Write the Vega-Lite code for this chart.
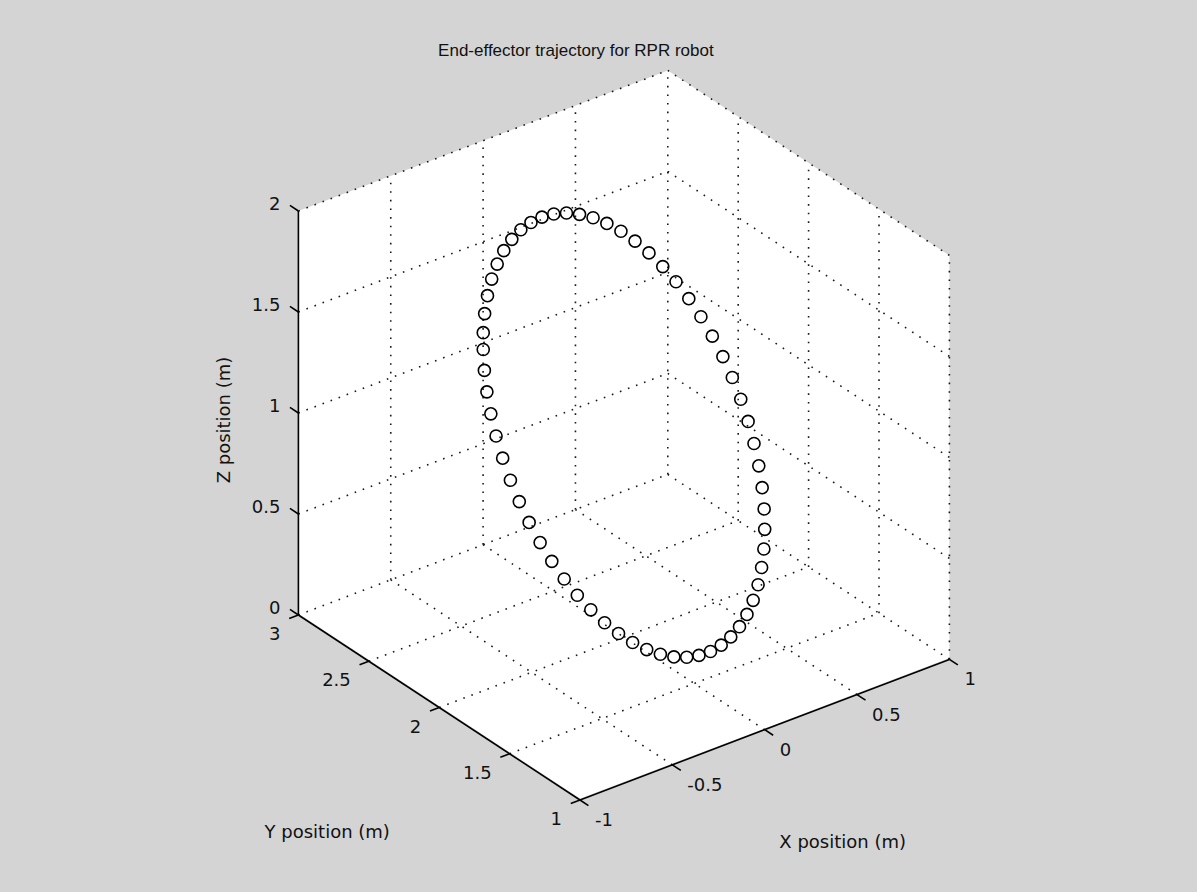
{
  "$schema": "https://vega.github.io/schema/vega-lite/v6.json",
  "width": 1197,
  "height": 892,
  "autosize": {"type": "none"},
  "padding": 0,
  "background": "#d4d4d4",
  "config": {"view": {"stroke": null}},
  "datasets": {
    "faceTop": [
      {"x": -1, "y": 3, "z": 2},
      {"x": 1, "y": 3, "z": 2},
      {"x": 1, "y": 1, "z": 2}
    ],
    "faceBottom": [
      {"x": -1, "y": 3, "z": 0},
      {"x": -1, "y": 1, "z": 0},
      {"x": 1, "y": 1, "z": 0}
    ],
    "grid": [
      {"x1": -0.5, "y1": 3, "z1": 0, "x2": -0.5, "y2": 3, "z2": 2},
      {"x1": 0, "y1": 3, "z1": 0, "x2": 0, "y2": 3, "z2": 2},
      {"x1": 0.5, "y1": 3, "z1": 0, "x2": 0.5, "y2": 3, "z2": 2},
      {"x1": 1, "y1": 3, "z1": 0, "x2": 1, "y2": 3, "z2": 2},
      {"x1": -1, "y1": 3, "z1": 0, "x2": 1, "y2": 3, "z2": 0},
      {"x1": -1, "y1": 3, "z1": 0.5, "x2": 1, "y2": 3, "z2": 0.5},
      {"x1": -1, "y1": 3, "z1": 1, "x2": 1, "y2": 3, "z2": 1},
      {"x1": -1, "y1": 3, "z1": 1.5, "x2": 1, "y2": 3, "z2": 1.5},
      {"x1": -1, "y1": 3, "z1": 2, "x2": 1, "y2": 3, "z2": 2},
      {"x1": 1, "y1": 1, "z1": 0, "x2": 1, "y2": 1, "z2": 2},
      {"x1": 1, "y1": 1.5, "z1": 0, "x2": 1, "y2": 1.5, "z2": 2},
      {"x1": 1, "y1": 2, "z1": 0, "x2": 1, "y2": 2, "z2": 2},
      {"x1": 1, "y1": 2.5, "z1": 0, "x2": 1, "y2": 2.5, "z2": 2},
      {"x1": 1, "y1": 1, "z1": 0, "x2": 1, "y2": 3, "z2": 0},
      {"x1": 1, "y1": 1, "z1": 0.5, "x2": 1, "y2": 3, "z2": 0.5},
      {"x1": 1, "y1": 1, "z1": 1, "x2": 1, "y2": 3, "z2": 1},
      {"x1": 1, "y1": 1, "z1": 1.5, "x2": 1, "y2": 3, "z2": 1.5},
      {"x1": 1, "y1": 1, "z1": 2, "x2": 1, "y2": 3, "z2": 2},
      {"x1": -0.5, "y1": 1, "z1": 0, "x2": -0.5, "y2": 3, "z2": 0},
      {"x1": 0, "y1": 1, "z1": 0, "x2": 0, "y2": 3, "z2": 0},
      {"x1": 0.5, "y1": 1, "z1": 0, "x2": 0.5, "y2": 3, "z2": 0},
      {"x1": -1, "y1": 1.5, "z1": 0, "x2": 1, "y2": 1.5, "z2": 0},
      {"x1": -1, "y1": 2, "z1": 0, "x2": 1, "y2": 2, "z2": 0},
      {"x1": -1, "y1": 2.5, "z1": 0, "x2": 1, "y2": 2.5, "z2": 0}
    ],
    "axes": [
      {"x1": -1, "y1": 3, "z1": 0, "x2": -1, "y2": 3, "z2": 2},
      {"x1": -1, "y1": 1, "z1": 0, "x2": -1, "y2": 3, "z2": 0},
      {"x1": -1, "y1": 1, "z1": 0, "x2": 1, "y2": 1, "z2": 0},
      {"x1": -1, "y1": 3, "z1": 0, "x2": -1, "y2": 3.06, "z2": 0},
      {"x1": -1, "y1": 3, "z1": 0.5, "x2": -1, "y2": 3.06, "z2": 0.5},
      {"x1": -1, "y1": 3, "z1": 1, "x2": -1, "y2": 3.06, "z2": 1},
      {"x1": -1, "y1": 3, "z1": 1.5, "x2": -1, "y2": 3.06, "z2": 1.5},
      {"x1": -1, "y1": 3, "z1": 2, "x2": -1, "y2": 3.06, "z2": 2},
      {"x1": -1, "y1": 1, "z1": 0, "x2": -1.05, "y2": 1, "z2": 0},
      {"x1": -1, "y1": 1.5, "z1": 0, "x2": -1.05, "y2": 1.5, "z2": 0},
      {"x1": -1, "y1": 2, "z1": 0, "x2": -1.05, "y2": 2, "z2": 0},
      {"x1": -1, "y1": 2.5, "z1": 0, "x2": -1.05, "y2": 2.5, "z2": 0},
      {"x1": -1, "y1": 3, "z1": 0, "x2": -1.05, "y2": 3, "z2": 0},
      {"x1": -1, "y1": 1, "z1": 0, "x2": -1, "y2": 0.94, "z2": 0},
      {"x1": -0.5, "y1": 1, "z1": 0, "x2": -0.5, "y2": 0.94, "z2": 0},
      {"x1": 0, "y1": 1, "z1": 0, "x2": 0, "y2": 0.94, "z2": 0},
      {"x1": 0.5, "y1": 1, "z1": 0, "x2": 0.5, "y2": 0.94, "z2": 0},
      {"x1": 1, "y1": 1, "z1": 0, "x2": 1, "y2": 0.94, "z2": 0}
    ],
    "ticklabels": [
      {"axis": "z", "x": -1, "y": 3, "z": 0, "label": "0"},
      {"axis": "z", "x": -1, "y": 3, "z": 0.5, "label": "0.5"},
      {"axis": "z", "x": -1, "y": 3, "z": 1, "label": "1"},
      {"axis": "z", "x": -1, "y": 3, "z": 1.5, "label": "1.5"},
      {"axis": "z", "x": -1, "y": 3, "z": 2, "label": "2"},
      {"axis": "y", "x": -1, "y": 1, "z": 0, "label": "1"},
      {"axis": "y", "x": -1, "y": 1.5, "z": 0, "label": "1.5"},
      {"axis": "y", "x": -1, "y": 2, "z": 0, "label": "2"},
      {"axis": "y", "x": -1, "y": 2.5, "z": 0, "label": "2.5"},
      {"axis": "y", "x": -1, "y": 3, "z": 0, "label": "3"},
      {"axis": "x", "x": -1, "y": 1, "z": 0, "label": "-1"},
      {"axis": "x", "x": -0.5, "y": 1, "z": 0, "label": "-0.5"},
      {"axis": "x", "x": 0, "y": 1, "z": 0, "label": "0"},
      {"axis": "x", "x": 0.5, "y": 1, "z": 0, "label": "0.5"},
      {"axis": "x", "x": 1, "y": 1, "z": 0, "label": "1"}
    ],
    "titles": [
      {"role": "title", "x": 0, "y": 2, "z": 2, "label": "End-effector trajectory for RPR robot"},
      {"role": "z", "x": -1, "y": 3, "z": 1, "label": "Z position (m)"},
      {"role": "y", "x": -1, "y": 2, "z": 0, "label": "Y position (m)"},
      {"role": "x", "x": 0, "y": 1, "z": 0, "label": "X position (m)"}
    ],
    "traj": [
      {"x": 0, "y": 2.999, "z": 1.050}, {"x": 0, "y": 2.989, "z": 1.149},
      {"x": 0, "y": 2.969, "z": 1.247}, {"x": 0, "y": 2.939, "z": 1.343},
      {"x": 0, "y": 2.900, "z": 1.435}, {"x": 0, "y": 2.853, "z": 1.523},
      {"x": 0, "y": 2.796, "z": 1.605}, {"x": 0, "y": 2.732, "z": 1.682},
      {"x": 0, "y": 2.660, "z": 1.751}, {"x": 0, "y": 2.582, "z": 1.813},
      {"x": 0, "y": 2.498, "z": 1.867}, {"x": 0, "y": 2.408, "z": 1.913},
      {"x": 0, "y": 2.315, "z": 1.949}, {"x": 0, "y": 2.219, "z": 1.976},
      {"x": 0, "y": 2.121, "z": 1.993}, {"x": 0, "y": 2.021, "z": 2.000},
      {"x": 0, "y": 1.921, "z": 1.997}, {"x": 0, "y": 1.822, "z": 1.984},
      {"x": 0, "y": 1.724, "z": 1.961}, {"x": 0, "y": 1.630, "z": 1.929},
      {"x": 0, "y": 1.539, "z": 1.887}, {"x": 0, "y": 1.453, "z": 1.837},
      {"x": 0, "y": 1.372, "z": 1.778}, {"x": 0, "y": 1.297, "z": 1.711},
      {"x": 0, "y": 1.230, "z": 1.638}, {"x": 0, "y": 1.170, "z": 1.558},
      {"x": 0, "y": 1.118, "z": 1.472}, {"x": 0, "y": 1.076, "z": 1.382},
      {"x": 0, "y": 1.042, "z": 1.287}, {"x": 0, "y": 1.018, "z": 1.190},
      {"x": 0, "y": 1.004, "z": 1.091}, {"x": 0, "y": 1.000, "z": 0.992},
      {"x": 0, "y": 1.006, "z": 0.892}, {"x": 0, "y": 1.022, "z": 0.793},
      {"x": 0, "y": 1.047, "z": 0.696}, {"x": 0, "y": 1.082, "z": 0.603},
      {"x": 0, "y": 1.126, "z": 0.513}, {"x": 0, "y": 1.179, "z": 0.428},
      {"x": 0, "y": 1.241, "z": 0.349}, {"x": 0, "y": 1.309, "z": 0.277},
      {"x": 0, "y": 1.385, "z": 0.211}, {"x": 0, "y": 1.467, "z": 0.154},
      {"x": 0, "y": 1.554, "z": 0.105}, {"x": 0, "y": 1.645, "z": 0.065},
      {"x": 0, "y": 1.741, "z": 0.034}, {"x": 0, "y": 1.838, "z": 0.013},
      {"x": 0, "y": 1.938, "z": 0.002}, {"x": 0, "y": 2.038, "z": 0.001},
      {"x": 0, "y": 2.137, "z": 0.009}, {"x": 0, "y": 2.235, "z": 0.028},
      {"x": 0, "y": 2.331, "z": 0.056}, {"x": 0, "y": 2.424, "z": 0.094},
      {"x": 0, "y": 2.512, "z": 0.141}, {"x": 0, "y": 2.595, "z": 0.196},
      {"x": 0, "y": 2.673, "z": 0.260}, {"x": 0, "y": 2.743, "z": 0.331},
      {"x": 0, "y": 2.806, "z": 0.408}, {"x": 0, "y": 2.861, "z": 0.492},
      {"x": 0, "y": 2.908, "z": 0.580}, {"x": 0, "y": 2.945, "z": 0.673},
      {"x": 0, "y": 2.973, "z": 0.769}, {"x": 0, "y": 2.991, "z": 0.867},
      {"x": 0, "y": 2.999, "z": 0.967}
    ]
  },
  "layer": [
    {
      "data": {"name": "faceTop"},
      "transform": [
        {"calculate": "580 + 184.7*(datum.x+1) - 140.8*(datum.y-1)", "as": "u"},
        {"calculate": "92 + 70.3*(datum.x+1) + 92.5*(datum.y-1) + 202*datum.z", "as": "v"}
      ],
      "mark": {"type": "area", "color": "#ffffff", "opacity": 1, "interpolate": "linear"},
      "encoding": {
        "x": {"field": "u", "type": "quantitative", "scale": {"domain": [0, 1197], "nice": false, "zero": false}, "axis": null},
        "y": {"field": "v", "type": "quantitative", "scale": {"domain": [0, 892], "nice": false, "zero": true}, "axis": null}
      }
    },
    {
      "data": {"name": "faceBottom"},
      "transform": [
        {"calculate": "580 + 184.7*(datum.x+1) - 140.8*(datum.y-1)", "as": "u"},
        {"calculate": "92 + 70.3*(datum.x+1) + 92.5*(datum.y-1) + 202*datum.z", "as": "v"}
      ],
      "mark": {"type": "area", "color": "#d4d4d4", "stroke": "#d4d4d4", "strokeWidth": 2.5, "opacity": 1, "interpolate": "linear"},
      "encoding": {
        "x": {"field": "u", "type": "quantitative", "scale": {"domain": [0, 1197], "nice": false, "zero": false}, "axis": null},
        "y": {"field": "v", "type": "quantitative", "scale": {"domain": [0, 892], "nice": false, "zero": true}, "axis": null}
      }
    },
    {
      "data": {"name": "grid"},
      "transform": [
        {"calculate": "580 + 184.7*(datum.x1+1) - 140.8*(datum.y1-1)", "as": "u1"},
        {"calculate": "92 + 70.3*(datum.x1+1) + 92.5*(datum.y1-1) + 202*datum.z1", "as": "v1"},
        {"calculate": "580 + 184.7*(datum.x2+1) - 140.8*(datum.y2-1)", "as": "u2"},
        {"calculate": "92 + 70.3*(datum.x2+1) + 92.5*(datum.y2-1) + 202*datum.z2", "as": "v2"}
      ],
      "mark": {"type": "rule", "stroke": "#1a1a1a", "strokeWidth": 1.6, "strokeDash": [1.6, 7]},
      "encoding": {
        "x": {"field": "u1", "type": "quantitative", "scale": {"domain": [0, 1197], "nice": false, "zero": false}, "axis": null},
        "y": {"field": "v1", "type": "quantitative", "scale": {"domain": [0, 892], "nice": false, "zero": true}, "axis": null},
        "x2": {"field": "u2"},
        "y2": {"field": "v2"}
      }
    },
    {
      "data": {"name": "axes"},
      "transform": [
        {"calculate": "580 + 184.7*(datum.x1+1) - 140.8*(datum.y1-1)", "as": "u1"},
        {"calculate": "92 + 70.3*(datum.x1+1) + 92.5*(datum.y1-1) + 202*datum.z1", "as": "v1"},
        {"calculate": "580 + 184.7*(datum.x2+1) - 140.8*(datum.y2-1)", "as": "u2"},
        {"calculate": "92 + 70.3*(datum.x2+1) + 92.5*(datum.y2-1) + 202*datum.z2", "as": "v2"}
      ],
      "mark": {"type": "rule", "stroke": "#000000", "strokeWidth": 1.6},
      "encoding": {
        "x": {"field": "u1", "type": "quantitative", "scale": {"domain": [0, 1197], "nice": false, "zero": false}, "axis": null},
        "y": {"field": "v1", "type": "quantitative", "scale": {"domain": [0, 892], "nice": false, "zero": true}, "axis": null},
        "x2": {"field": "u2"},
        "y2": {"field": "v2"}
      }
    },
    {
      "data": {"name": "traj"},
      "transform": [
        {"calculate": "580 + 184.7*(datum.x+1) - 140.8*(datum.y-1)", "as": "u"},
        {"calculate": "92 + 70.3*(datum.x+1) + 92.5*(datum.y-1) + 202*datum.z", "as": "v"}
      ],
      "mark": {"type": "point", "shape": "circle", "filled": false, "stroke": "#000000", "strokeWidth": 1.6, "size": 145, "opacity": 1},
      "encoding": {
        "x": {"field": "u", "type": "quantitative", "scale": {"domain": [0, 1197], "nice": false, "zero": false}, "axis": null},
        "y": {"field": "v", "type": "quantitative", "scale": {"domain": [0, 892], "nice": false, "zero": true}, "axis": null}
      }
    },
    {
      "data": {"name": "ticklabels"},
      "transform": [
        {"filter": "datum.axis === 'z'"},
        {"calculate": "580 + 184.7*(datum.x+1) - 140.8*(datum.y-1)", "as": "u"},
        {"calculate": "92 + 70.3*(datum.x+1) + 92.5*(datum.y-1) + 202*datum.z", "as": "v"}
      ],
      "mark": {"type": "text", "align": "right", "baseline": "middle", "dx": -18, "dy": -6, "font": "DejaVu Sans", "fontSize": 18, "color": "#111111"},
      "encoding": {
        "x": {"field": "u", "type": "quantitative", "scale": {"domain": [0, 1197], "nice": false, "zero": false}, "axis": null},
        "y": {"field": "v", "type": "quantitative", "scale": {"domain": [0, 892], "nice": false, "zero": true}, "axis": null},
        "text": {"field": "label"}
      }
    },
    {
      "data": {"name": "ticklabels"},
      "transform": [
        {"filter": "datum.axis === 'y'"},
        {"calculate": "580 + 184.7*(datum.x+1) - 140.8*(datum.y-1)", "as": "u"},
        {"calculate": "92 + 70.3*(datum.x+1) + 92.5*(datum.y-1) + 202*datum.z", "as": "v"}
      ],
      "mark": {"type": "text", "align": "right", "baseline": "middle", "dx": -18, "dy": 20, "font": "DejaVu Sans", "fontSize": 18, "color": "#111111"},
      "encoding": {
        "x": {"field": "u", "type": "quantitative", "scale": {"domain": [0, 1197], "nice": false, "zero": false}, "axis": null},
        "y": {"field": "v", "type": "quantitative", "scale": {"domain": [0, 892], "nice": false, "zero": true}, "axis": null},
        "text": {"field": "label"}
      }
    },
    {
      "data": {"name": "ticklabels"},
      "transform": [
        {"filter": "datum.axis === 'x'"},
        {"calculate": "580 + 184.7*(datum.x+1) - 140.8*(datum.y-1)", "as": "u"},
        {"calculate": "92 + 70.3*(datum.x+1) + 92.5*(datum.y-1) + 202*datum.z", "as": "v"}
      ],
      "mark": {"type": "text", "align": "left", "baseline": "middle", "dx": 15, "dy": 21, "font": "DejaVu Sans", "fontSize": 18, "color": "#111111"},
      "encoding": {
        "x": {"field": "u", "type": "quantitative", "scale": {"domain": [0, 1197], "nice": false, "zero": false}, "axis": null},
        "y": {"field": "v", "type": "quantitative", "scale": {"domain": [0, 892], "nice": false, "zero": true}, "axis": null},
        "text": {"field": "label"}
      }
    },
    {
      "data": {"name": "titles"},
      "transform": [
        {"filter": "datum.role === 'title'"},
        {"calculate": "580 + 184.7*(datum.x+1) - 140.8*(datum.y-1)", "as": "u"},
        {"calculate": "92 + 70.3*(datum.x+1) + 92.5*(datum.y-1) + 202*datum.z", "as": "v"}
      ],
      "mark": {"type": "text", "align": "center", "baseline": "middle", "dx": -48, "dy": -182, "font": "Liberation Sans", "fontSize": 17, "color": "#111111"},
      "encoding": {
        "x": {"field": "u", "type": "quantitative", "scale": {"domain": [0, 1197], "nice": false, "zero": false}, "axis": null},
        "y": {"field": "v", "type": "quantitative", "scale": {"domain": [0, 892], "nice": false, "zero": true}, "axis": null},
        "text": {"field": "label"}
      }
    },
    {
      "data": {"name": "titles"},
      "transform": [
        {"filter": "datum.role === 'z'"},
        {"calculate": "580 + 184.7*(datum.x+1) - 140.8*(datum.y-1)", "as": "u"},
        {"calculate": "92 + 70.3*(datum.x+1) + 92.5*(datum.y-1) + 202*datum.z", "as": "v"}
      ],
      "mark": {"type": "text", "align": "center", "baseline": "middle", "angle": 270, "dx": -7, "dy": -73, "font": "DejaVu Sans", "fontSize": 18, "color": "#111111"},
      "encoding": {
        "x": {"field": "u", "type": "quantitative", "scale": {"domain": [0, 1197], "nice": false, "zero": false}, "axis": null},
        "y": {"field": "v", "type": "quantitative", "scale": {"domain": [0, 892], "nice": false, "zero": true}, "axis": null},
        "text": {"field": "label"}
      }
    },
    {
      "data": {"name": "titles"},
      "transform": [
        {"filter": "datum.role === 'y'"},
        {"calculate": "580 + 184.7*(datum.x+1) - 140.8*(datum.y-1)", "as": "u"},
        {"calculate": "92 + 70.3*(datum.x+1) + 92.5*(datum.y-1) + 202*datum.z", "as": "v"}
      ],
      "mark": {"type": "text", "align": "center", "baseline": "middle", "dx": -112, "dy": 125, "font": "DejaVu Sans", "fontSize": 18, "color": "#111111"},
      "encoding": {
        "x": {"field": "u", "type": "quantitative", "scale": {"domain": [0, 1197], "nice": false, "zero": false}, "axis": null},
        "y": {"field": "v", "type": "quantitative", "scale": {"domain": [0, 892], "nice": false, "zero": true}, "axis": null},
        "text": {"field": "label"}
      }
    },
    {
      "data": {"name": "titles"},
      "transform": [
        {"filter": "datum.role === 'x'"},
        {"calculate": "580 + 184.7*(datum.x+1) - 140.8*(datum.y-1)", "as": "u"},
        {"calculate": "92 + 70.3*(datum.x+1) + 92.5*(datum.y-1) + 202*datum.z", "as": "v"}
      ],
      "mark": {"type": "text", "align": "center", "baseline": "middle", "dx": 78, "dy": 113, "font": "DejaVu Sans", "fontSize": 18, "color": "#111111"},
      "encoding": {
        "x": {"field": "u", "type": "quantitative", "scale": {"domain": [0, 1197], "nice": false, "zero": false}, "axis": null},
        "y": {"field": "v", "type": "quantitative", "scale": {"domain": [0, 892], "nice": false, "zero": true}, "axis": null},
        "text": {"field": "label"}
      }
    }
  ]
}
